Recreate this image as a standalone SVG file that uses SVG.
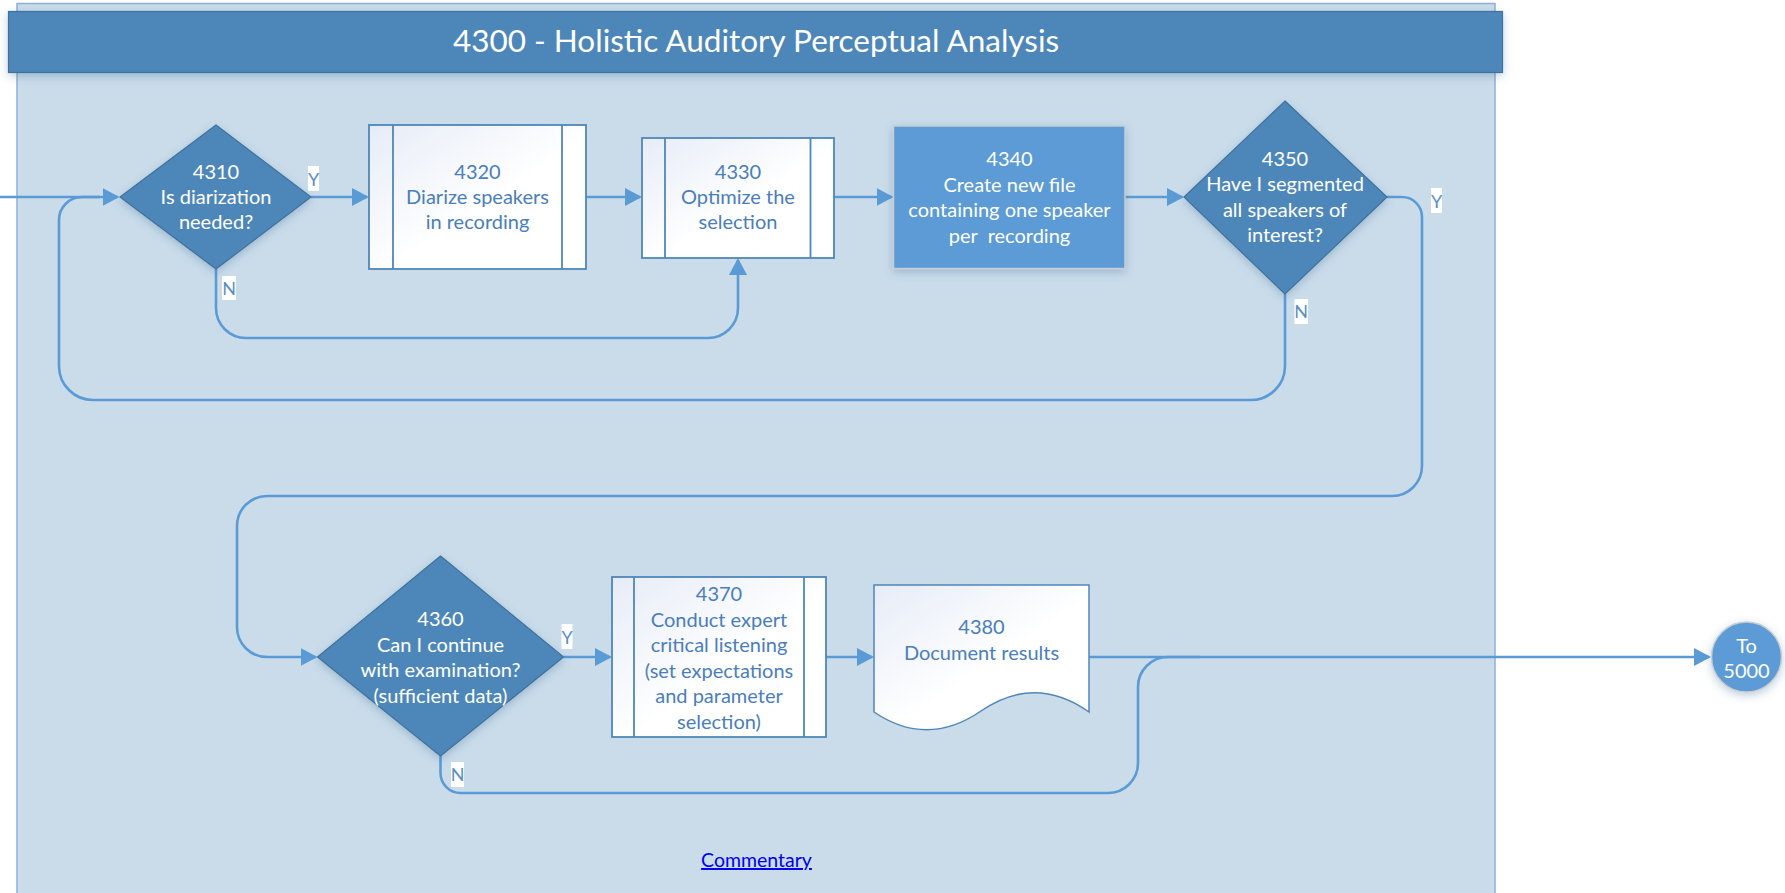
<svg xmlns="http://www.w3.org/2000/svg" width="1785" height="893" viewBox="0 0 1785 893">
<style>
.t{font-family:Lato,"Noto Sans","Liberation Sans",sans-serif;font-size:20px;text-anchor:middle}
.w{fill:#ffffff}
.b{fill:#4A7EBB}
.dia{fill:#4E87BA;stroke:#41719C;stroke-width:1.2}
.sub{fill:url(#g1);stroke:#4E87BA;stroke-width:1.8}
.doc{fill:url(#g1);stroke:#4E87BA;stroke-width:1.5}
.con{fill:none;stroke:#5B9BD5;stroke-width:2.6}
.lbg{fill:#ffffff}
.lbl{font-family:Lato,"Noto Sans","Liberation Sans",sans-serif;font-size:18px;fill:#5B8EC5;text-anchor:middle}
</style>
<defs>
<linearGradient id="g1" x1="0" y1="0" x2="1" y2="1">
<stop offset="0" stop-color="#E6ECF7"/>
<stop offset="0.55" stop-color="#FFFFFF"/>
<stop offset="1" stop-color="#FFFFFF"/>
</linearGradient>
<filter id="sh" x="-20%" y="-20%" width="140%" height="140%">
<feDropShadow dx="0" dy="3" stdDeviation="4" flood-color="#2F5F8F" flood-opacity="0.3"/>
</filter>
<marker id="ar" markerUnits="userSpaceOnUse" markerWidth="18" markerHeight="18" refX="15" refY="9" orient="auto">
<path d="M0,0 L17,9 L0,18 z" fill="#5B9BD5"/>
</marker>
</defs>

<g id="container">
<rect x="17" y="3.5" width="1478" height="895" fill="#CADCEA" stroke="#8EB0D6" stroke-width="1.5"/>
</g>
<g id="title">
<rect x="8.5" y="11.5" width="1494" height="61" fill="#4E87BA" stroke="#41719C" stroke-width="1.2" filter="url(#sh)"/>
<text x="756" y="52" class="t w" style="font-size:31.5px">4300 - Holistic Auditory Perceptual Analysis</text>
</g>

<g id="connectors">
<path class="con" d="M0,197 H117.5" marker-end="url(#ar)"/>
<path class="con" d="M311,197 H367"  marker-end="url(#ar)"/>
<path class="con" d="M586,197 H640" marker-end="url(#ar)"/>
<path class="con" d="M834,197 H891.5" marker-end="url(#ar)"/>
<path class="con" d="M1125,197 H1182" marker-end="url(#ar)"/>
<path class="con" d="M216,269 V308 A30,30 0 0 0 246,338 H708 A30,30 0 0 0 738,308 V260" marker-end="url(#ar)"/>
<path class="con" d="M1285,294 V366 A34,34 0 0 1 1251,400 H93 A34,34 0 0 1 59,366 V220 A23,23 0 0 1 82,197 H100"/>
<path class="con" d="M1387,197 H1402 A20,20 0 0 1 1422,217 V466 A30,30 0 0 1 1392,496 H267 A30,30 0 0 0 237,526 V627 A30,30 0 0 0 267,657 H315.5" marker-end="url(#ar)"/>
<path class="con" d="M563.5,657 H610" marker-end="url(#ar)"/>
<path class="con" d="M826,657 H872" marker-end="url(#ar)"/>
<path class="con" d="M1089,657 H1709" marker-end="url(#ar)"/>
<path class="con" d="M440.5,756 V773 A20,20 0 0 0 460.5,793 H1108 A30,30 0 0 0 1138,763 V687 A30,30 0 0 1 1168,657 H1200"/>
<rect class="lbg" x="308" y="166" width="11" height="25"/>
<text class="lbl" x="313.5" y="186">Y</text>
<rect class="lbg" x="222" y="276" width="14" height="24"/>
<text class="lbl" x="229" y="295">N</text>
<rect class="lbg" x="1431" y="188" width="11" height="25"/>
<text class="lbl" x="1436.5" y="208">Y</text>
<rect class="lbg" x="1294.5" y="299" width="13.5" height="25"/>
<text class="lbl" x="1301" y="318">N</text>
<rect class="lbg" x="561.5" y="624" width="11" height="25"/>
<text class="lbl" x="567" y="644">Y</text>
<rect class="lbg" x="451" y="762" width="13" height="25"/>
<text class="lbl" x="457.5" y="781">N</text>
</g>

<g id="n4310">
<polygon class="dia" points="216,125 311,197 216,269 120,197" filter="url(#sh)"/>
<text class="t w" x="216" y="179">4310</text>
<text class="t w" x="216" y="204">Is diarization</text>
<text class="t w" x="216" y="229">needed?</text>
</g>
<g id="n4320">
<rect class="sub" x="369" y="125" width="217" height="144"/>
<line x1="393" y1="125" x2="393" y2="269" stroke="#4E87BA" stroke-width="1.8"/>
<line x1="562" y1="125" x2="562" y2="269" stroke="#4E87BA" stroke-width="1.8"/>
<text class="t b" x="477.5" y="179">4320</text>
<text class="t b" x="477.5" y="204">Diarize speakers</text>
<text class="t b" x="477.5" y="229">in recording</text>
</g>
<g id="n4330">
<rect class="sub" x="642" y="138" width="192" height="120"/>
<line x1="665" y1="138" x2="665" y2="258" stroke="#4E87BA" stroke-width="1.8"/>
<line x1="810.5" y1="138" x2="810.5" y2="258" stroke="#4E87BA" stroke-width="1.8"/>
<text class="t b" x="738" y="179">4330</text>
<text class="t b" x="738" y="204">Optimize the</text>
<text class="t b" x="738" y="229">selection</text>
</g>
<g id="n4340">
<rect x="893.5" y="126" width="231.5" height="142.5" fill="#5B9BD5" stroke="#C8CDD3" stroke-width="1.5" filter="url(#sh)"/>
<text class="t w" x="1009.5" y="166">4340</text>
<text class="t w" x="1009.5" y="191.5">Create new file</text>
<text class="t w" x="1009.5" y="217">containing one speaker</text>
<text class="t w" x="1009.5" y="242.5" xml:space="preserve">per  recording</text>
</g>
<g id="n4350">
<polygon class="dia" points="1285,101 1387,197 1285,294 1184,197" filter="url(#sh)"/>
<text class="t w" x="1285" y="166">4350</text>
<text class="t w" x="1285" y="191">Have I segmented</text>
<text class="t w" x="1285" y="217">all speakers of</text>
<text class="t w" x="1285" y="242">interest?</text>
</g>
<g id="n4360">
<polygon class="dia" points="440.5,556 563.5,657 440.5,756 317.5,657" filter="url(#sh)"/>
<text class="t w" x="440.5" y="626">4360</text>
<text class="t w" x="440.5" y="651.5">Can I continue</text>
<text class="t w" x="440.5" y="677">with examination?</text>
<text class="t w" x="440.5" y="702.5">(sufficient data)</text>
</g>
<g id="n4370">
<rect class="sub" x="612" y="577" width="214" height="160"/>
<line x1="634" y1="577" x2="634" y2="737" stroke="#4E87BA" stroke-width="1.8"/>
<line x1="804" y1="577" x2="804" y2="737" stroke="#4E87BA" stroke-width="1.8"/>
<text class="t b" x="719" y="601">4370</text>
<text class="t b" x="719" y="626.5">Conduct expert</text>
<text class="t b" x="719" y="652">critical listening</text>
<text class="t b" x="719" y="677.5">(set expectations</text>
<text class="t b" x="719" y="703">and parameter</text>
<text class="t b" x="719" y="728.5">selection)</text>
</g>
<g id="n4380">
<path class="doc" d="M874,585 H1089 V712 Q1035,674 981,711 Q927,748 874,712 Z"/>
<text class="t b" x="981.5" y="634">4380</text>
<text class="t b" x="981.5" y="660">Document results</text>
</g>
<g id="n5000">
<circle cx="1746.5" cy="657" r="35" fill="#5B9BD5" stroke="#C8CDD3" stroke-width="1.5" filter="url(#sh)"/>
<text class="t w" x="1746.5" y="653">To</text>
<text class="t w" x="1746.5" y="678">5000</text>
</g>
<g id="commentary">
<text x="756.5" y="867" style="font-family:Lato,'Noto Sans','Liberation Sans',sans-serif;font-size:19.5px;text-anchor:middle;fill:#0000EE;text-decoration:underline">Commentary</text>
</g>
</svg>
